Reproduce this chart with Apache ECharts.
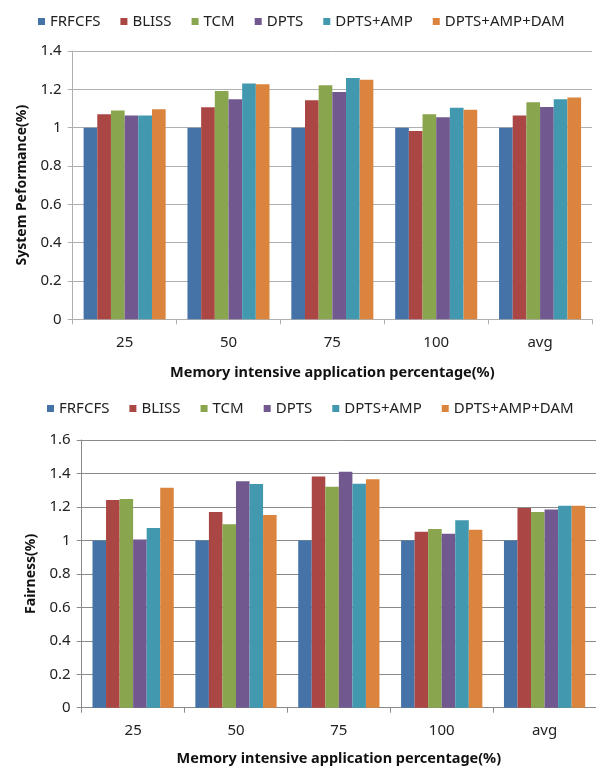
<!DOCTYPE html>
<html>
<head>
<meta charset="utf-8">
<script src="https://cdn.jsdelivr.net/npm/echarts@6/dist/echarts.min.js"></script>
<style>
html,body{margin:0;padding:0;background:#fff;}
#c{width:596px;height:768px;}
</style>
</head>
<body>
<div id="c"></div>
<script>
const categories = ['25', '50', '75', '100', 'avg'];
const seriesNames = ['FRFCFS', 'BLISS', 'TCM', 'DPTS', 'DPTS+AMP', 'DPTS+AMP+DAM'];
const colors = ['#4572A7', '#AA4643', '#89A54E', '#71588F', '#4198AF', '#DB843D'];

// System performance (top chart)
const perfFRFCFS = [1.0, 1.0, 1.0, 1.0, 1.0];
const perfBLISS  = [1.070, 1.106, 1.143, 0.983, 1.064];
const perfTCM    = [1.090, 1.191, 1.221, 1.070, 1.132];
const perfDPTS   = [1.064, 1.148, 1.186, 1.054, 1.108];
const perfAMP    = [1.064, 1.231, 1.259, 1.104, 1.148];
const perfDAM    = [1.096, 1.226, 1.250, 1.094, 1.158];

// Fairness (bottom chart)
const fairFRFCFS = [1.0, 1.0, 1.0, 1.0, 1.0];
const fairBLISS  = [1.241, 1.169, 1.382, 1.052, 1.193];
const fairTCM    = [1.247, 1.096, 1.321, 1.068, 1.169];
const fairDPTS   = [1.006, 1.353, 1.410, 1.040, 1.185];
const fairAMP    = [1.074, 1.337, 1.339, 1.120, 1.207];
const fairDAM    = [1.315, 1.151, 1.365, 1.064, 1.207];

const perfTicks = [0, 0.2, 0.4, 0.6, 0.8, 1, 1.2, 1.4];
const fairTicks = [0, 0.2, 0.4, 0.6, 0.8, 1, 1.2, 1.4, 1.6];

const perfData = [perfFRFCFS, perfBLISS, perfTCM, perfDPTS, perfAMP, perfDAM];
const fairData = [fairFRFCFS, fairBLISS, fairTCM, fairDPTS, fairAMP, fairDAM];

const FONT = '"Noto Sans", sans-serif';

const chart = echarts.init(document.getElementById('c'), null, {renderer: 'canvas'});

function xAxis(gridIndex, lineColor, gap) {
  return {
    type: 'category', gridIndex: gridIndex, data: categories,
    boundaryGap: true,
    axisLine: {show: true, lineStyle: {color: lineColor, width: 1}},
    axisTick: {show: true, length: 5, alignWithLabel: false, lineStyle: {color: lineColor}},
    axisLabel: {color: '#222', fontSize: 15, fontFamily: FONT, margin: 16},
    name: 'Memory intensive application percentage(%)',
    nameLocation: 'middle', nameGap: gap,
    nameTextStyle: {color: '#111', fontSize: 14.5, fontWeight: 'bold', fontFamily: FONT}
  };
}
function yAxis(gridIndex, name, max, ticks, lineColor, gap) {
  return {
    type: 'value', gridIndex: gridIndex, min: 0, max: max, interval: 0.2,
    axisLine: {show: true, lineStyle: {color: lineColor, width: 1}},
    axisTick: {show: true, length: 5, lineStyle: {color: lineColor}},
    splitLine: {show: true, lineStyle: {color: lineColor, width: 1}},
    axisLabel: {color: '#222', fontSize: 15, fontFamily: FONT, margin: 11,
      formatter: function (v) {
        const t = ticks.find(function (x) { return Math.abs(x - v) < 1e-6; });
        return t === undefined ? '' : String(t);
      }},
    name: name, nameLocation: 'middle', nameGap: gap, nameRotate: 90,
    nameTextStyle: {color: '#111', fontSize: 14, fontWeight: 'bold', fontFamily: FONT}
  };
}

const series = [];
seriesNames.forEach(function (n, i) {
  series.push({
    name: n, type: 'bar', xAxisIndex: 0, yAxisIndex: 0, data: perfData[i],
    barGap: '0%', barCategoryGap: '21%',
    itemStyle: {color: colors[i]}, animation: false
  });
});
seriesNames.forEach(function (n, i) {
  series.push({
    name: n, type: 'bar', xAxisIndex: 1, yAxisIndex: 1, data: fairData[i],
    barGap: '0%', barCategoryGap: '21%',
    itemStyle: {color: colors[i]}, animation: false
  });
});

function legend(left, top) {
  return {
    data: seriesNames, left: left, top: top, icon: 'rect',
    itemWidth: 7, itemHeight: 7, itemGap: 20, selectedMode: false,
    textStyle: {color: '#222', fontSize: 15, fontFamily: FONT, padding: [0, 0, 0, 0]}
  };
}

chart.setOption({
  animation: false,
  color: colors,
  legend: [legend(33, 9), legend(42, 396)],
  grid: [
    {left: 72.7, top: 51, width: 519.3, height: 268.3},
    {left: 81.7, top: 440, width: 519.3, height: 267.7}
  ],
  xAxis: [xAxis(0, '#b0b0b0', 46), xAxis(1, '#8a8a8a', 44)],
  yAxis: [
    yAxis(0, 'System Peformance(%)', 1.4, perfTicks, '#b0b0b0', 44),
    yAxis(1, 'Fairness(%)', 1.6, fairTicks, '#8a8a8a', 44)
  ],
  series: series
});
</script>
</body>
</html>
